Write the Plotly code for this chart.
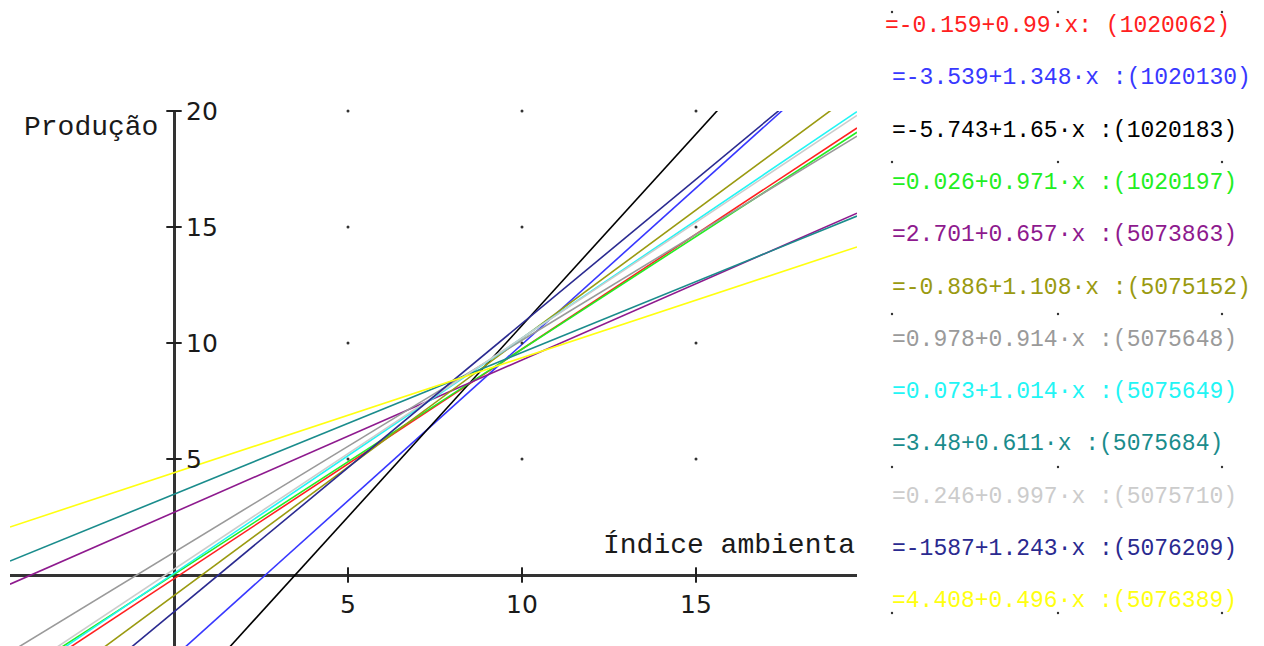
import numpy as np
import plotly.graph_objects as go

# ---- data ----
intercepts = [-0.159, -3.539, -5.743, 0.026, 2.701, -0.886, 0.978, 0.073, 3.48, 0.246, -1.587, 4.408]
slopes = [0.99, 1.348, 1.65, 0.971, 0.657, 1.108, 0.914, 1.014, 0.611, 0.997, 1.243, 0.496]
labels = [
    "=-0.159+0.99·x: (1020062)",
    "=-3.539+1.348·x :(1020130)",
    "=-5.743+1.65·x :(1020183)",
    "=0.026+0.971·x :(1020197)",
    "=2.701+0.657·x :(5073863)",
    "=-0.886+1.108·x :(5075152)",
    "=0.978+0.914·x :(5075648)",
    "=0.073+1.014·x :(5075649)",
    "=3.48+0.611·x :(5075684)",
    "=0.246+0.997·x :(5075710)",
    "=-1587+1.243·x :(5076209)",
    "=4.408+0.496·x :(5076389)",
]
colors = ["#ff2020", "#3838ff", "#000000", "#22ee22", "#8e1a8e", "#9a9a10",
          "#9a9a9a", "#22f5f5", "#1a8c8c", "#cccccc", "#2a2a90", "#ffff10"]
x_ticks = [5, 10, 15]
y_ticks = [5, 10, 15, 20]
x_title = "Índice ambienta"
y_title = "Produção"

W, H = 1264, 646
OFF = 8  # page body margin
xr = [-4.713, 19.626]
yr = [-3.06, 20.0]


def px_x(p):
    return (p - OFF) / W


def px_y(p):
    return 1 - (p - OFF) / H


fig = go.Figure()

xs = np.array(xr)
for a, b, c in zip(intercepts, slopes, colors):
    fig.add_trace(go.Scatter(x=xs, y=a + b * xs, mode="lines",
                             line=dict(color=c, width=1.6), hoverinfo="skip"))

# grid dots
gx, gy = np.meshgrid(x_ticks, y_ticks)
fig.add_trace(go.Scatter(x=gx.ravel(), y=gy.ravel(), mode="markers",
                         marker=dict(size=3, color="#333333"), cliponaxis=False))

# tick marks crossing axes
fig.add_trace(go.Scatter(x=x_ticks, y=[0] * len(x_ticks), mode="markers",
                         marker=dict(symbol="line-ns", size=11,
                                     line=dict(width=2, color="#222222")),
                         cliponaxis=False))
fig.add_trace(go.Scatter(x=[0] * len(y_ticks), y=y_ticks, mode="markers",
                         marker=dict(symbol="line-ew", size=11,
                                     line=dict(width=2, color="#222222")),
                         cliponaxis=False))

tick_font = dict(family="DejaVu Sans", size=25, color="#1a1a1a")
for v in x_ticks:
    fig.add_annotation(x=v, y=0, xref="x", yref="y", text=str(v), showarrow=False,
                       xanchor="center", yanchor="middle", yshift=-29, font=tick_font)
for v in y_ticks:
    fig.add_annotation(x=0, y=v, xref="x", yref="y", text=str(v), showarrow=False,
                       xanchor="left", yanchor="middle", xshift=10, font=tick_font)

mono = "Liberation Mono, DejaVu Sans Mono, monospace"
fig.add_annotation(x=px_x(22), y=px_y(127), xref="paper", yref="paper", text=y_title,
                   showarrow=False, xanchor="left", yanchor="middle",
                   font=dict(family=mono, size=28, color="#1a1a1a"))
fig.add_annotation(x=px_x(857), y=px_y(545), xref="paper", yref="paper", text=x_title,
                   showarrow=False, xanchor="right", yanchor="middle",
                   font=dict(family=mono, size=28, color="#1a1a1a"))

# equation list
for i, (t, c) in enumerate(zip(labels, colors)):
    xl = 883 if i == 0 else 890
    yc = 26 + i * 52.3
    fig.add_annotation(x=px_x(xl), y=px_y(yc), xref="paper", yref="paper", text=t,
                       showarrow=False, xanchor="left", yanchor="middle",
                       font=dict(family=mono, size=23, color=c))

# dot grid behind the equation panel
for px in [892, 1058, 1222]:
    for py in [12, 162, 314, 467, 613]:
        fig.add_shape(type="circle", xref="paper", yref="paper",
                      x0=px_x(px - 1.2), x1=px_x(px + 1.2),
                      y0=px_y(py + 1.2), y1=px_y(py - 1.2),
                      fillcolor="#333333", line=dict(width=0), layer="below")

fig.update_layout(
    width=W, height=H, margin=dict(l=0, r=0, t=0, b=0),
    paper_bgcolor="white", plot_bgcolor="white", showlegend=False,
    xaxis=dict(domain=[px_x(10), px_x(857)], range=xr, showgrid=False,
               showticklabels=False, ticks="", zeroline=True,
               zerolinecolor="#333333", zerolinewidth=2.5),
    yaxis=dict(domain=[px_y(646), px_y(111)], range=yr, showgrid=False,
               showticklabels=False, ticks="", zeroline=True,
               zerolinecolor="#333333", zerolinewidth=2.5),
)

fig.write_html("out.html")
